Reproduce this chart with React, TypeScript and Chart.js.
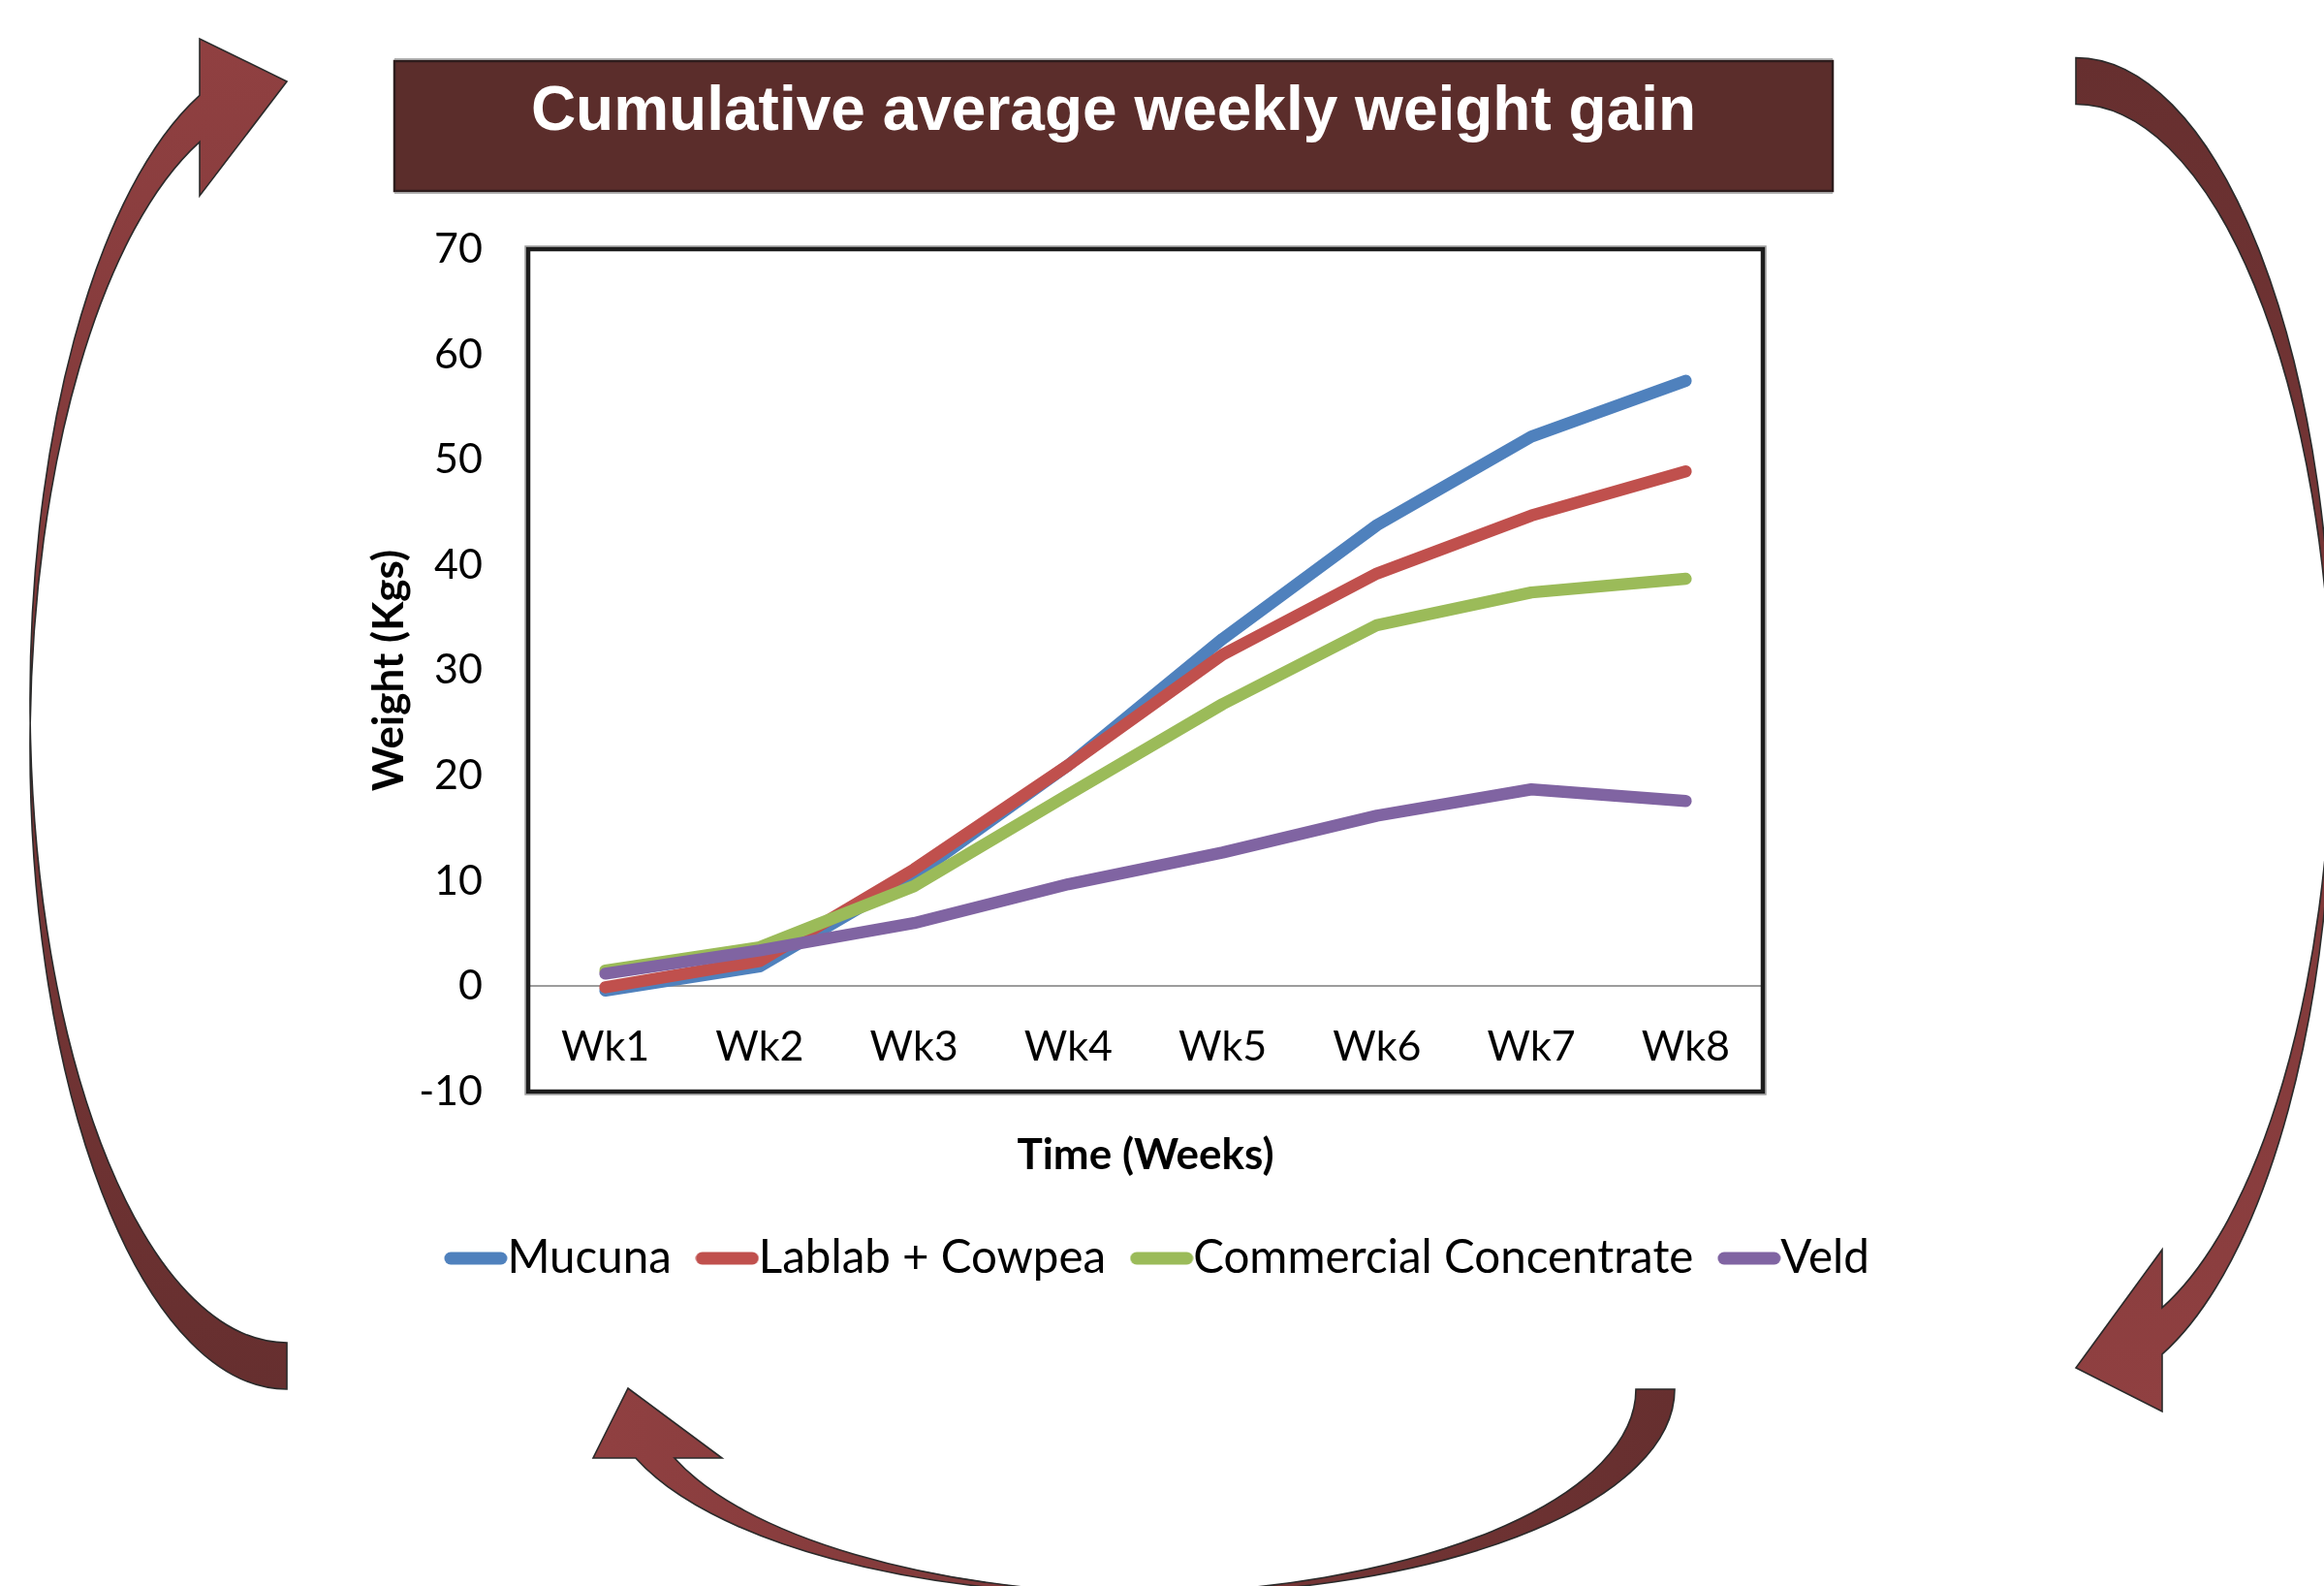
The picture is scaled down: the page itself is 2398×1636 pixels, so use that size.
import React, { useEffect, useRef } from 'react';
import { Chart, registerables } from 'chart.js';

Chart.register(...registerables);

// ---------- data ----------
const weeks = ['Wk1', 'Wk2', 'Wk3', 'Wk4', 'Wk5', 'Wk6', 'Wk7', 'Wk8'];
const mucuna = [-0.4, 1.9, 10.5, 21.0, 33.0, 43.8, 52.2, 57.5];
const lablabCowpea = [-0.1, 2.4, 11.1, 21.0, 31.5, 39.2, 44.7, 48.9];
const commercialConcentrate = [1.5, 3.7, 9.5, 18.2, 26.8, 34.3, 37.4, 38.7];
const veld = [1.2, 3.4, 6.0, 9.7, 12.7, 16.2, 18.7, 17.6];
const seriesLabels = ['Mucuna', 'Lablab + Cowpea', 'Commercial Concentrate', 'Veld'];
const seriesColors = ['#4F81BD', '#C0504D', '#9BBB59', '#8064A2'];
const yMin = -10;
const yMax = 70;
const yStep = 10;
const titleText = 'Cumulative average weekly weight gain';
const yTitle = 'Weight (Kgs)';
const xTitle = 'Time (Weeks)';

// ---------- layout / style constants ----------
const W = 2398;
const H = 1636;
const BANNER = { x: 407, y: 63, w: 1484, h: 134, fill: '#5B2D2B' };
const TICK_FONT = 43;
const LEGEND_FONT = 47.5;
const LEGEND_SYMBOL = 65;
const LEGEND_GAP = 25;
const LEGEND_CENTER_X = 1205.5;
const LEGEND_ROW_Y = 1298;

function makeLegendSymbol(color: string): HTMLCanvasElement {
  const c = document.createElement('canvas');
  c.width = LEGEND_SYMBOL + 1;
  c.height = 16;
  const g = c.getContext('2d');
  if (g) {
    g.strokeStyle = color;
    g.lineWidth = 13;
    g.lineCap = 'round';
    g.beginPath();
    g.moveTo(7, 8);
    g.lineTo(LEGEND_SYMBOL - 6, 8);
    g.stroke();
  }
  return c;
}

const decorPlugin = {
  id: 'decor',
  afterLayout(chart: any) {
    const t = chart.titleBlock;
    if (t) {
      t.left = BANNER.x;
      t.right = BANNER.x + BANNER.w;
      t.width = BANNER.w;
    }
    const l = chart.legend;
    if (l) {
      const w = l.right - l.left;
      const h = l.bottom - l.top;
      const pad = LEGEND_GAP + LEGEND_FONT / 2;
      const top = LEGEND_ROW_Y - pad - LEGEND_FONT / 2;
      l.left = LEGEND_CENTER_X - w / 2;
      l.right = l.left + w;
      l.top = top;
      l.bottom = top + h;
    }
  },
  beforeDraw(chart: any) {
    const ctx = chart.ctx;
    ctx.save();
    ctx.fillStyle = BANNER.fill;
    ctx.fillRect(BANNER.x, BANNER.y, BANNER.w, BANNER.h);
    ctx.strokeStyle = '#2e1d1d';
    ctx.lineWidth = 2.5;
    ctx.strokeRect(BANNER.x, BANNER.y, BANNER.w, BANNER.h);
    ctx.strokeStyle = '#9a9a9a';
    ctx.lineWidth = 1.5;
    ctx.beginPath();
    ctx.moveTo(BANNER.x, BANNER.y - 2);
    ctx.lineTo(BANNER.x + BANNER.w, BANNER.y - 2);
    ctx.moveTo(BANNER.x, BANNER.y + BANNER.h + 2);
    ctx.lineTo(BANNER.x + BANNER.w, BANNER.y + BANNER.h + 2);
    ctx.stroke();
    ctx.restore();
  },
  afterDraw(chart: any) {
    const { left, top, right, bottom } = chart.chartArea;
    const ctx = chart.ctx;
    ctx.save();
    ctx.strokeStyle = '#a0a0a0';
    ctx.lineWidth = 1.5;
    ctx.strokeRect(left - 3, top - 3, right - left + 6, bottom - top + 6);
    ctx.strokeStyle = '#1c1c1c';
    ctx.lineWidth = 4.5;
    ctx.strokeRect(left, top, right - left, bottom - top);
    ctx.restore();
  },
};

// ---------- decorative arrows ----------
const leftArrow =
  'M 296 1433 A 265 663 0 0 1 31.17 746 A 265 663 0 0 1 206 98.4 L 206 40 L 296 84 L 206 202 L 206 146.4 ' +
  'A 265 663 0 0 0 31.17 746 A 265 663 0 0 0 296 1385 Z';
const rightArrow =
  'M 2142 59.5 A 265 664 0 0 1 2406.8 747.5 A 265 664 0 0 1 2231 1396.9 L 2231 1456 L 2142 1411 L 2231 1289 L 2231 1348.9 ' +
  'A 265 664 0 0 0 2406.8 747.5 A 265 664 0 0 0 2142 107.5 Z';
const bottomArrow =
  'M 1728 1433 A 531.5 211.4 0 0 1 1176.5 1644.25 A 531.5 211.4 0 0 1 655.9 1504 L 612 1504 L 648 1432 L 745 1504 L 695.9 1504 ' +
  'A 531.5 211.4 0 0 0 1176.5 1644.25 A 531.5 211.4 0 0 0 1688 1433 Z';

export default function App() {
  const canvasRef = useRef<HTMLCanvasElement>(null);

  useEffect(() => {
    const canvas = canvasRef.current;
    if (!canvas) return;
    const seriesValues = [mucuna, lablabCowpea, commercialConcentrate, veld];
    const symbols = seriesColors.map((c) => makeLegendSymbol(c));
    const legendPad = LEGEND_GAP + LEGEND_FONT / 2;
    const legendHeight = LEGEND_FONT + legendPad + 10;
    const xAxisHeight = 92.6;
    const chartBottom = 1126;

    const chart = new Chart(canvas, {
      type: 'line',
      data: {
        labels: weeks,
        datasets: seriesLabels.map((label, i) => ({
          label,
          data: seriesValues[i],
          borderColor: seriesColors[i],
          backgroundColor: seriesColors[i],
          borderWidth: 12.5,
          borderCapStyle: 'round',
          borderJoinStyle: 'round',
          pointRadius: 0,
          pointHoverRadius: 0,
          tension: 0,
          fill: false,
          order: seriesLabels.length - i,
        })) as any,
      },
      options: {
        responsive: false,
        animation: false,
        devicePixelRatio: 1,
        events: [],
        layout: {
          padding: {
            top: 40,
            left: 0,
            right: W - 1819,
            bottom: H - chartBottom - xAxisHeight - legendHeight,
          },
        },
        plugins: {
          tooltip: { enabled: false },
          title: {
            display: true,
            text: titleText,
            color: '#ffffff',
            font: { family: "'Liberation Sans', Arial, sans-serif", size: 64, weight: 'bold', lineHeight: 1.2 },
            padding: { top: 37.6, bottom: 102.6 },
          },
          legend: {
            display: true,
            position: 'bottom',
            labels: {
              usePointStyle: true,
              pointStyleWidth: LEGEND_SYMBOL - LEGEND_FONT,
              padding: legendPad,
              color: '#000000',
              font: { family: 'Lato', size: LEGEND_FONT },
              generateLabels: (ch: any) =>
                ch.data.datasets.map((ds: any, i: number) => ({
                  text: ds.label,
                  fillStyle: ds.borderColor,
                  strokeStyle: ds.borderColor,
                  lineWidth: 0,
                  pointStyle: symbols[i],
                  hidden: !ch.isDatasetVisible(i),
                  datasetIndex: i,
                  fontColor: '#000000',
                })),
            },
          },
        },
        scales: {
          x: {
            type: 'category',
            offset: true,
            grid: { display: false, drawTicks: false },
            border: { display: false },
            ticks: {
              color: '#000000',
              font: { family: 'Lato', size: TICK_FONT },
              mirror: true,
              padding: 19.7,
              maxRotation: 0,
              autoSkip: false,
            },
            title: {
              display: true,
              text: xTitle,
              color: '#000000',
              font: { family: 'Lato', size: 44, weight: 'bold', lineHeight: 1.2 },
              padding: { top: 0, bottom: 0 },
            },
            afterFit: (scale: any) => {
              scale.height = xAxisHeight;
            },
          },
          y: {
            min: yMin,
            max: yMax,
            grid: {
              display: true,
              drawTicks: false,
              lineWidth: 2,
              color: (ctx: any) => (ctx.tick && ctx.tick.value === 0 ? '#9c9c9c' : 'rgba(0,0,0,0)'),
            },
            border: { display: false },
            ticks: {
              stepSize: yStep,
              color: '#000000',
              font: { family: 'Lato', size: TICK_FONT },
              padding: 47,
            },
            title: {
              display: true,
              text: yTitle,
              color: '#000000',
              font: { family: 'Lato', size: 44, weight: 'bold', lineHeight: 1.2 },
              padding: { top: 375.6, bottom: 0 },
            },
            afterFit: (scale: any) => {
              scale.width = 545;
            },
          },
        },
      },
      plugins: [decorPlugin],
    } as any);

    return () => chart.destroy();
  }, []);

  return (
    <div
      style={{
        position: 'fixed',
        left: 0,
        top: 0,
        width: W,
        height: H,
        background: '#ffffff',
        overflow: 'hidden',
      }}
    >
      <svg
        width={W}
        height={H}
        viewBox={`0 0 ${W} ${H}`}
        style={{ position: 'absolute', left: 0, top: 0 }}
      >
        <defs>
          <linearGradient id="gLeft" x1="0" y1="40" x2="0" y2="1433" gradientUnits="userSpaceOnUse">
            <stop offset="0" stopColor="#904041" />
            <stop offset="1" stopColor="#662F2F" />
          </linearGradient>
          <linearGradient id="gRight" x1="0" y1="59" x2="0" y2="1456" gradientUnits="userSpaceOnUse">
            <stop offset="0" stopColor="#662F2F" />
            <stop offset="1" stopColor="#904041" />
          </linearGradient>
          <linearGradient id="gBottom" x1="612" y1="0" x2="1728" y2="0" gradientUnits="userSpaceOnUse">
            <stop offset="0" stopColor="#904041" />
            <stop offset="1" stopColor="#662F2F" />
          </linearGradient>
        </defs>
        <path d={leftArrow} fill="url(#gLeft)" stroke="#2a2a2a" strokeWidth={1.6} strokeLinejoin="miter" />
        <path d={rightArrow} fill="url(#gRight)" stroke="#2a2a2a" strokeWidth={1.6} strokeLinejoin="miter" />
        <path d={bottomArrow} fill="url(#gBottom)" stroke="#2a2a2a" strokeWidth={1.6} strokeLinejoin="miter" />
      </svg>
      <canvas
        ref={canvasRef}
        width={W}
        height={H}
        style={{ position: 'absolute', left: 0, top: 0, width: W, height: H }}
      />
    </div>
  );
}
